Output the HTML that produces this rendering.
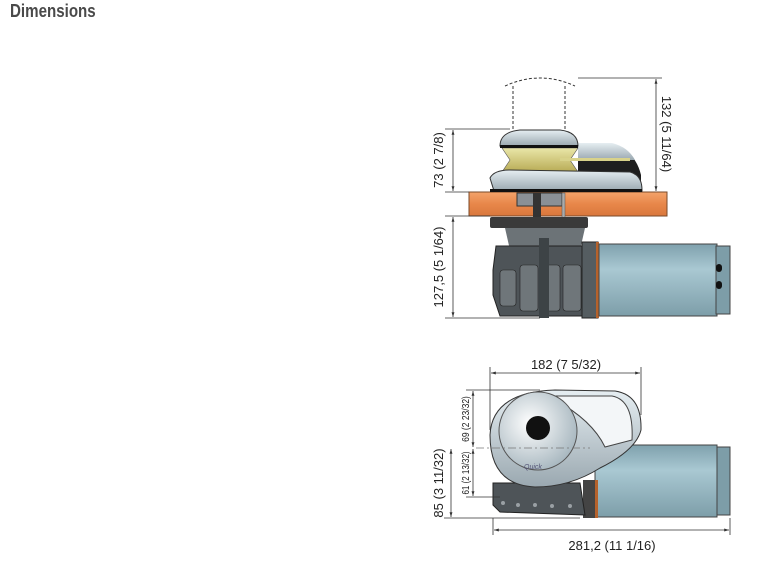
<!DOCTYPE html>
<html><head><meta charset="utf-8"><style>
html,body{margin:0;padding:0;background:#fff;}
body{width:757px;height:568px;overflow:hidden;position:relative;font-family:"Liberation Sans",sans-serif;}
h1{position:absolute;left:10px;top:1px;margin:0;font-size:18px;font-weight:bold;color:#4a4a4a;transform:scaleX(0.84);transform-origin:left top;}
svg{position:absolute;left:0;top:0;}
</style></head><body>
<h1>Dimensions</h1>
<svg width="757" height="568" viewBox="0 0 757 568" font-family="Liberation Sans, sans-serif" fill="#222">
<defs>
<linearGradient id="wood" x1="0" y1="0" x2="0" y2="1"><stop offset="0" stop-color="#f4a36a"/><stop offset="0.5" stop-color="#e8874a"/><stop offset="1" stop-color="#d9773c"/></linearGradient>
<linearGradient id="motor" x1="0" y1="0" x2="0" y2="1"><stop offset="0" stop-color="#7fa1ad"/><stop offset="0.35" stop-color="#a9c8d2"/><stop offset="1" stop-color="#7d9ea9"/></linearGradient>
<linearGradient id="steel" x1="0" y1="0" x2="0" y2="1"><stop offset="0" stop-color="#e6eef2"/><stop offset="1" stop-color="#9aa8b0"/></linearGradient>
<linearGradient id="gold" x1="0" y1="0" x2="0" y2="1"><stop offset="0" stop-color="#e9e6a8"/><stop offset="1" stop-color="#b8ab55"/></linearGradient>
<radialGradient id="disc" cx="0.4" cy="0.4" r="0.7"><stop offset="0" stop-color="#ffffff"/><stop offset="1" stop-color="#9fb0b9"/></radialGradient>
<marker id="a" viewBox="0 0 10 10" refX="10" refY="5" markerWidth="6" markerHeight="6" orient="auto-start-reverse"><path d="M0,2 L10,5 L0,8z" fill="#333"/></marker>
</defs>

<g stroke="#333" stroke-width="1" fill="none" stroke-dasharray="3,2">
<path d="M505,86 Q540,70 575,86"/><path d="M513,86 L513,130 M565,86 L565,130"/>
</g>
<rect x="469" y="192" width="198" height="24" fill="url(#wood)" stroke="#7a4a2a"/>
<rect x="517" y="193" width="45" height="13" fill="#8a9096" stroke="#333"/>
<rect x="533" y="193" width="8" height="30" fill="#333"/>
<rect x="562" y="193" width="3" height="40" fill="#aaa" stroke="#555" stroke-width=".5"/>
<path d="M578,143 L610,143 Q635,150 641,175 L641,190 L578,190Z" fill="#1e1e1e"/>
<path d="M578,143 L612,143 Q628,147 635,160 L578,160Z" fill="url(#steel)"/>
<path d="M502,148 L578,148 L570,160 L578,172 L502,172 L510,160Z" fill="url(#gold)" stroke="#555" stroke-width=".6"/>
<rect x="560" y="158" width="70" height="3" fill="#d8d28a"/>
<path d="M500,146 Q500,132 520,130 L560,130 Q578,132 578,146Z" fill="url(#steel)" stroke="#333"/>
<rect x="500" y="145" width="78" height="3" fill="#111"/>
<path d="M494,191 L490,178 Q494,170 510,170 L630,172 Q642,175 642,190 L642,191Z" fill="url(#steel)" stroke="#333"/>
<rect x="490" y="189" width="152" height="3" fill="#111"/>
<rect x="490" y="217" width="98" height="11" rx="2" fill="#3a3a3a"/>
<path d="M505,228 L585,228 L580,250 L510,250Z" fill="#6c7377"/>
<path d="M496,246 L590,246 L592,316 L500,316 L493,295 L493,270Z" fill="#4e5458" stroke="#222"/>
<g fill="#6f767a" stroke="#222" stroke-width=".6">
<rect x="500" y="270" width="16" height="36" rx="3"/><rect x="520" y="265" width="18" height="46" rx="3"/><rect x="542" y="265" width="18" height="46" rx="3"/><rect x="563" y="265" width="18" height="46" rx="3"/></g>
<rect x="539" y="238" width="10" height="80" fill="#3d4346"/>
<rect x="582" y="242" width="16" height="76" fill="#555d61" stroke="#222"/>
<rect x="596" y="242" width="3" height="76" fill="#b5622c"/>
<rect x="599" y="244" width="118" height="72" fill="url(#motor)" stroke="#444"/>
<rect x="716" y="246" width="14" height="68" fill="#7d9da8" stroke="#444"/>
<rect x="716" y="264" width="6" height="8" rx="3" fill="#111"/><rect x="716" y="281" width="6" height="8" rx="3" fill="#111"/>

<g stroke="#333" stroke-width=".8" fill="none">
<path d="M445,129 L510,129 M445,192 L469,192 M445,216 L490,216 M445,318 L540,318 M578,78 L662,78"/>
<path d="M453,130 L453,191" marker-start="url(#a)" marker-end="url(#a)"/>
<path d="M453,217 L453,317" marker-start="url(#a)" marker-end="url(#a)"/>
<path d="M656,79 L656,191" marker-start="url(#a)" marker-end="url(#a)"/>
</g>
<text transform="translate(443,160) rotate(-90)" font-size="13" text-anchor="middle">73 (2 7/8)</text>
<text transform="translate(443,267) rotate(-90)" font-size="13" text-anchor="middle">127,5 (5 1/64)</text>
<text transform="translate(662,134) rotate(90)" font-size="13" text-anchor="middle">132 (5 11/64)</text>

<!-- BOTTOM VIEW -->
<rect x="595" y="445" width="122" height="72" fill="url(#motor)" stroke="#444"/>
<rect x="717" y="447" width="13" height="68" fill="#7d9da8" stroke="#444"/>
<rect x="583" y="480" width="14" height="38" fill="#444"/>
<rect x="595" y="480" width="3" height="38" fill="#b5622c"/>
<path d="M493,483 L580,483 L585,515 L500,512 L493,505Z" fill="#4e5458" stroke="#222"/>
<g fill="#9aa0a4"><circle cx="503" cy="503" r="2"/><circle cx="518" cy="505" r="2"/><circle cx="535" cy="505" r="2"/><circle cx="552" cy="506" r="2"/><circle cx="570" cy="506" r="2"/></g>
<path d="M490,435 Q492,392 555,390 L615,391 Q642,395 641,430 Q636,450 600,468 Q570,487 535,487 Q490,485 490,435Z" fill="url(#steel)" stroke="#333"/>
<path d="M555,396 L612,396 Q634,400 632,440 L605,447 Q592,420 555,400Z" fill="#f3f6f8" stroke="#444"/>
<circle cx="538" cy="431" r="39" fill="url(#disc)" stroke="#555"/>
<circle cx="538" cy="428" r="12" fill="#111"/>
<text x="524" y="469" font-size="7" fill="#557" font-style="italic">Quick</text>
<g stroke="#333" stroke-width=".8" fill="none">
<path d="M490,367 L490,430 M641,367 L641,415 M466,390 L540,390"/>
<path d="M476,448 L590,448" stroke="#777" stroke-dasharray="8,3,2,3"/>
<path d="M466,497 L500,497 M444,518 L580,518 M493,518 L493,535 M730,518 L730,535"/>
<path d="M491,373 L640,373" marker-start="url(#a)" marker-end="url(#a)"/>
<path d="M473,391 L473,447" marker-start="url(#a)" marker-end="url(#a)"/>
<path d="M473,449 L473,496" marker-start="url(#a)" marker-end="url(#a)"/>
<path d="M451,449 L451,517" marker-start="url(#a)" marker-end="url(#a)"/>
<path d="M494,530 L729,530" marker-start="url(#a)" marker-end="url(#a)"/>
</g>
<text x="566" y="369" font-size="13" text-anchor="middle">182 (7 5/32)</text>
<text transform="translate(469,419) rotate(-90) scale(0.85,1)" font-size="10" text-anchor="middle">69 (2 23/32)</text>
<text transform="translate(469,473) rotate(-90) scale(0.8,1)" font-size="10" text-anchor="middle">61 (2 13/32)</text>
<text transform="translate(443,483) rotate(-90)" font-size="13" text-anchor="middle">85 (3 11/32)</text>
<text x="612" y="550" font-size="13" text-anchor="middle">281,2 (11 1/16)</text>
</svg>
</body></html>
